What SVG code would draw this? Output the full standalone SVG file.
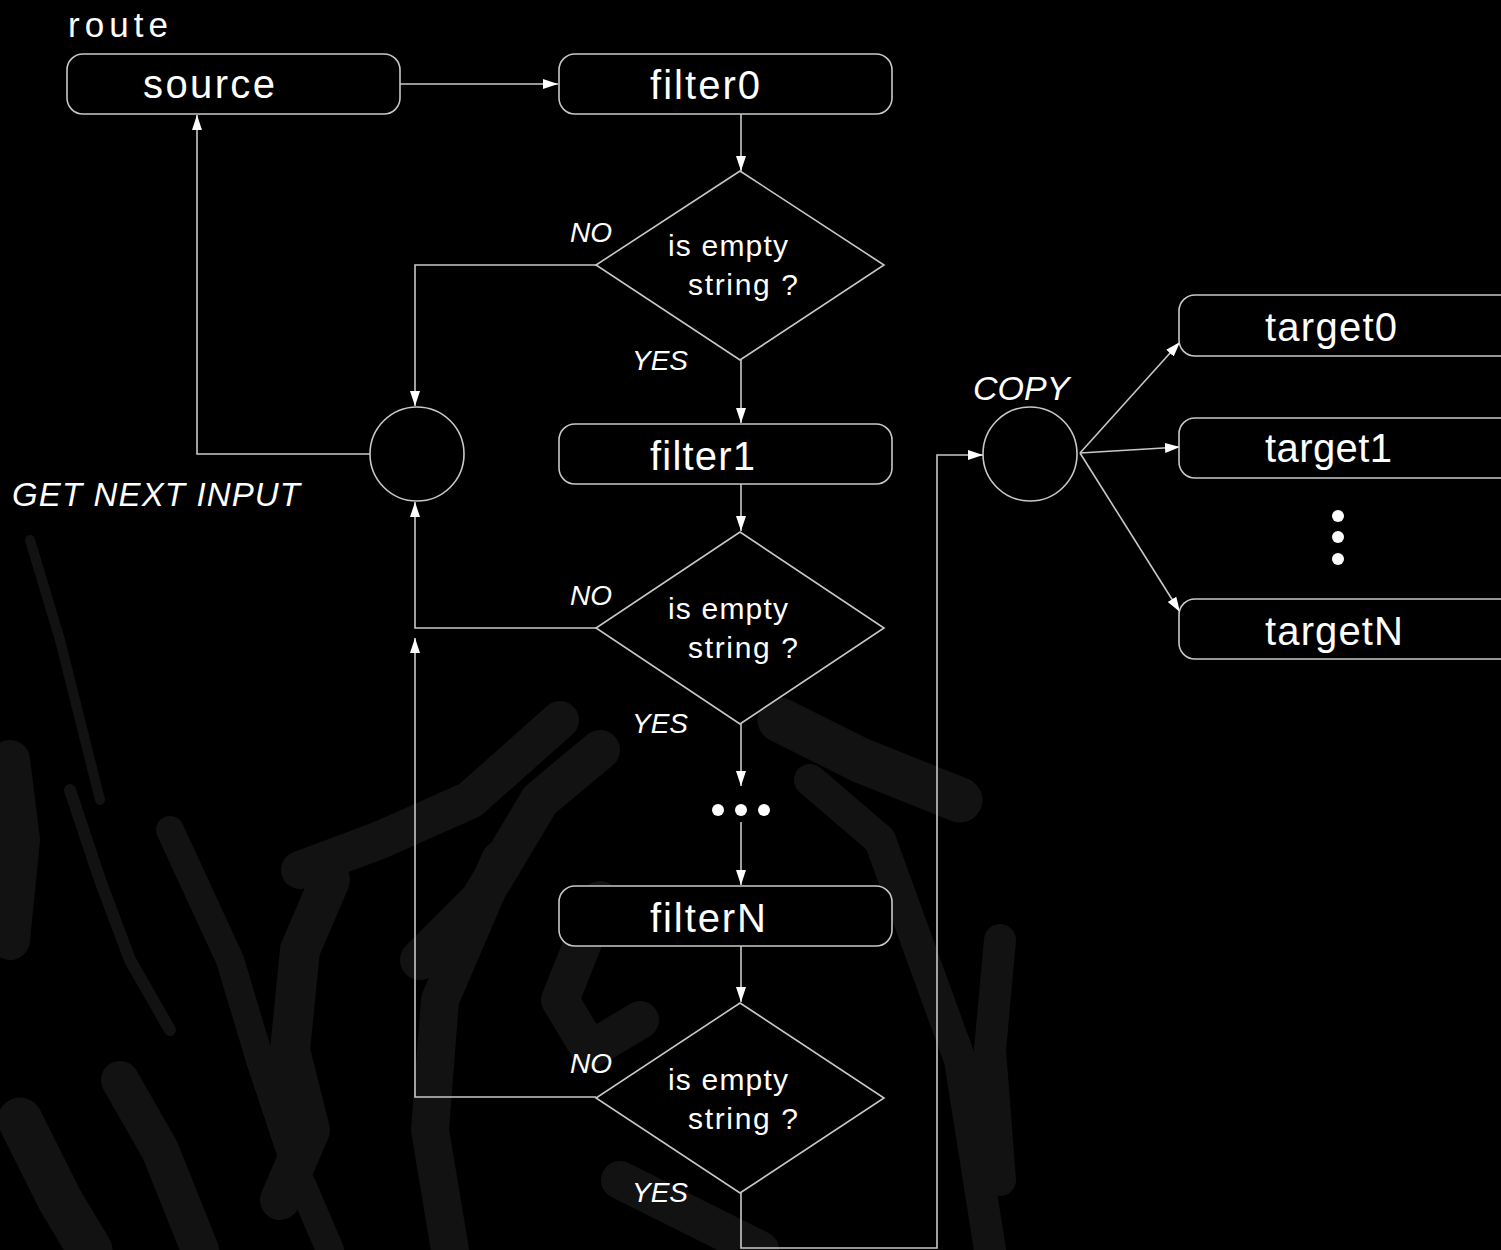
<svg xmlns="http://www.w3.org/2000/svg" width="1501" height="1250" viewBox="0 0 1501 1250">
<defs>
<style>
.box{fill:#000;stroke:#c8c8c8;stroke-width:1.6}
.dia{fill:#000;stroke:#c8c8c8;stroke-width:1.6}
.cir{fill:#000;stroke:#c8c8c8;stroke-width:1.6}
.ln{fill:none;stroke:#c8c8c8;stroke-width:1.6}
.lbl{font-family:"Liberation Sans",Arial,sans-serif;fill:#fff;font-size:40px}
.q{font-family:"Liberation Sans",Arial,sans-serif;fill:#fff;font-size:30px}
.it{font-family:"Liberation Sans",Arial,sans-serif;fill:#fff;font-style:italic;font-size:28px}
.bg{fill:none;stroke:#121212;stroke-linecap:round;stroke-linejoin:round}
.dot{fill:#fff}
</style>
<marker id="ah" markerUnits="userSpaceOnUse" markerWidth="16" markerHeight="11" refX="15" refY="5" orient="auto">
<path d="M0,0 L15,5 L0,10 z" fill="#fff"/>
</marker>
</defs>
<rect width="1501" height="1250" fill="#000"/>
<g id="background">
<path class="bg" stroke-width="10" d="M30,540 L60,640 L80,720 L100,800"/>
<path class="bg" stroke-width="12" d="M70,790 L100,880 L130,960 L170,1030"/>
<path class="bg" stroke-width="40" d="M10,760 L20,840 L10,940"/>
<path class="bg" stroke-width="28" d="M170,830 L230,960 L260,1060 L300,1180 L330,1250"/>
<path class="bg" stroke-width="38" d="M300,870 L380,840 L470,800 L560,720"/>
<path class="bg" stroke-width="40" d="M330,880 L300,950 L290,1050 L310,1130 L280,1200"/>
<path class="bg" stroke-width="40" d="M420,960 L480,900 L540,800 L600,750"/>
<path class="bg" stroke-width="38" d="M500,860 L440,1000 L430,1130 L450,1250"/>
<path class="bg" stroke-width="38" d="M600,900 L560,1000 L590,1050 L640,1020"/>
<path class="bg" stroke-width="45" d="M780,720 L860,760 L960,800"/>
<path class="bg" stroke-width="32" d="M810,780 L880,840 L920,950 L960,1060 L990,1250"/>
<path class="bg" stroke-width="32" d="M1000,940 L990,1050 L1000,1180"/>
<path class="bg" stroke-width="45" d="M20,1120 L60,1200 L90,1250"/>
<path class="bg" stroke-width="38" d="M120,1080 L160,1150 L200,1250"/>
<path class="bg" stroke-width="38" d="M620,1180 L700,1220 L760,1250"/>
</g>
<g id="connectors">
<path class="ln" d="M400,84 L558,84" marker-end="url(#ah)"/>
<path class="ln" d="M741,114 L741,171" marker-end="url(#ah)"/>
<path class="ln" d="M596,265 L415,265 L415,406" marker-end="url(#ah)"/>
<path class="ln" d="M370,454 L197,454 L197,115" marker-end="url(#ah)"/>
<path class="ln" d="M741,360 L741,423" marker-end="url(#ah)"/>
<path class="ln" d="M741,484 L741,531" marker-end="url(#ah)"/>
<path class="ln" d="M596,628 L415,628 L415,502" marker-end="url(#ah)"/>
<path class="ln" d="M741,724 L741,786" marker-end="url(#ah)"/>
<path class="ln" d="M741,822 L741,885" marker-end="url(#ah)"/>
<path class="ln" d="M741,946 L741,1002" marker-end="url(#ah)"/>
<path class="ln" d="M596,1097 L415,1097 L415,638" marker-end="url(#ah)"/>
<path class="ln" d="M741,1193 L741,1248 L937,1248 L937,455 L983,455" marker-end="url(#ah)"/>
<path class="ln" d="M1080,453 L1180,342" marker-end="url(#ah)"/>
<path class="ln" d="M1080,453 L1180,447" marker-end="url(#ah)"/>
<path class="ln" d="M1080,453 L1180,612" marker-end="url(#ah)"/>
</g>
<text class="lbl" x="68" y="37" textLength="100" lengthAdjust="spacing" style="font-size:35px">route</text>
<g id="source">
<rect class="box" x="67" y="54" width="333" height="60" rx="16"/>
<text class="lbl" x="143" y="98" textLength="132" lengthAdjust="spacing">source</text>
</g>
<g id="filter0">
<rect class="box" x="559" y="54" width="333" height="60" rx="16"/>
<text class="lbl" x="650" y="99" textLength="110" lengthAdjust="spacing">filter0</text>
</g>
<g id="decision0">
<polygon class="dia" points="740,171 884,265 740,360 596,265"/>
<text class="q" x="668" y="256" textLength="120" lengthAdjust="spacing">is empty</text>
<text class="q" x="688" y="295" textLength="110" lengthAdjust="spacing">string ?</text>
<text class="it" x="570" y="242">NO</text>
<text class="it" x="632" y="370">YES</text>
</g>
<g id="getnext">
<circle class="cir" cx="417" cy="454" r="47"/>
<text class="it" x="12" y="506" textLength="288" lengthAdjust="spacing" style="font-size:33px">GET NEXT INPUT</text>
</g>
<g id="filter1">
<rect class="box" x="559" y="424" width="333" height="60" rx="16"/>
<text class="lbl" x="650" y="470" textLength="105" lengthAdjust="spacing">filter1</text>
</g>
<g id="decision1">
<polygon class="dia" points="740,532 884,628 740,724 596,628"/>
<text class="q" x="668" y="619" textLength="120" lengthAdjust="spacing">is empty</text>
<text class="q" x="688" y="658" textLength="110" lengthAdjust="spacing">string ?</text>
<text class="it" x="570" y="605">NO</text>
<text class="it" x="632" y="733">YES</text>
</g>
<g id="ellipsis">
<circle class="dot" cx="718" cy="810" r="6"/>
<circle class="dot" cx="741" cy="810" r="6"/>
<circle class="dot" cx="764" cy="810" r="6"/>
</g>
<g id="filterN">
<rect class="box" x="559" y="886" width="333" height="60" rx="16"/>
<text class="lbl" x="650" y="932" textLength="116" lengthAdjust="spacing">filterN</text>
</g>
<g id="decisionN">
<polygon class="dia" points="740,1003 884,1098 740,1193 596,1098"/>
<text class="q" x="668" y="1090" textLength="120" lengthAdjust="spacing">is empty</text>
<text class="q" x="688" y="1129" textLength="110" lengthAdjust="spacing">string ?</text>
<text class="it" x="570" y="1073">NO</text>
<text class="it" x="632" y="1202">YES</text>
</g>
<g id="copy">
<circle class="cir" cx="1030" cy="454" r="47"/>
<text class="it" x="973" y="400" style="font-size:34px">COPY</text>
</g>
<g id="target0">
<rect class="box" x="1179" y="295" width="340" height="61" rx="16"/>
<text class="lbl" x="1265" y="341" textLength="132" lengthAdjust="spacing">target0</text>
</g>
<g id="target1">
<rect class="box" x="1179" y="418" width="340" height="60" rx="16"/>
<text class="lbl" x="1265" y="462" textLength="127" lengthAdjust="spacing">target1</text>
</g>
<g id="targetdots">
<circle class="dot" cx="1338" cy="516" r="6"/>
<circle class="dot" cx="1338" cy="537" r="6"/>
<circle class="dot" cx="1338" cy="559" r="6"/>
</g>
<g id="targetN">
<rect class="box" x="1179" y="599" width="340" height="60" rx="16"/>
<text class="lbl" x="1265" y="645" textLength="138" lengthAdjust="spacing">targetN</text>
</g>
</svg>
